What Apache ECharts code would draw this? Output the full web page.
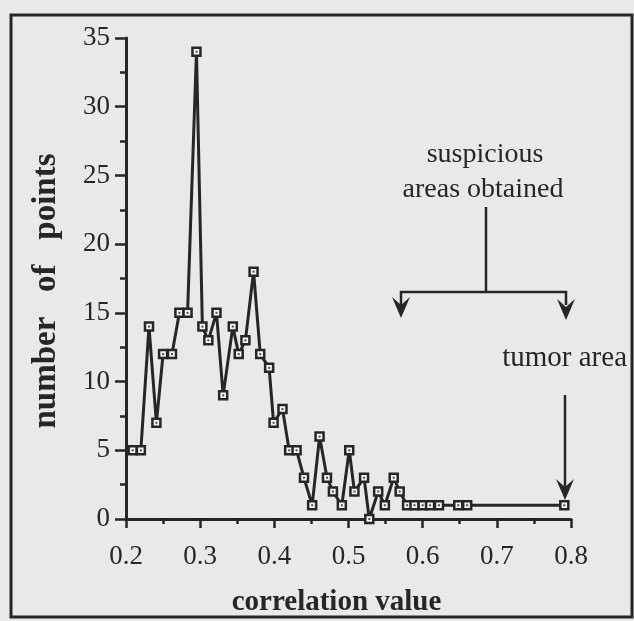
<!DOCTYPE html>
<html>
<head>
<meta charset="utf-8">
<script src="https://cdn.jsdelivr.net/npm/echarts@6/dist/echarts.min.js"></script>
<style>
  html, body { margin: 0; padding: 0; background: #e9e9e9; }
  #chart { width: 634px; height: 621px; }
</style>
</head>
<body>
<div id="chart"></div>
<script>
// correlation value (x) and number of points (y)
const correlationValues = [0.209, 0.220, 0.231, 0.241, 0.250, 0.262, 0.272, 0.283,
  0.295, 0.303, 0.311, 0.322, 0.331, 0.344, 0.352, 0.361,
  0.372, 0.381, 0.393, 0.399, 0.411, 0.420, 0.430, 0.440,
  0.451, 0.461, 0.471, 0.479, 0.491, 0.501, 0.508, 0.521,
  0.528, 0.540, 0.549, 0.561, 0.569, 0.579, 0.589, 0.600,
  0.610, 0.622, 0.648, 0.660, 0.791];
const pointCounts = [5, 5, 14, 7, 12, 12, 15, 15,
  34, 14, 13, 15, 9, 14, 12, 13,
  18, 12, 11, 7, 8, 5, 5, 3,
  1, 6, 3, 2, 1, 5, 2, 3,
  0, 2, 1, 3, 2, 1, 1, 1,
  1, 1, 1, 1, 1];
const xTickLabels = ['0.2', '0.3', '0.4', '0.5', '0.6', '0.7', '0.8'];
const yTickLabels = ['0', '5', '10', '15', '20', '25', '30', '35'];
const xAxisTitle = 'correlation value';
const yAxisTitle = 'number   of   points';
const annotationSuspicious = ['suspicious', 'areas obtained'];
const annotationTumor = 'tumor area';

const ink = '#262626';
const serif = '"Liberation Serif", "DejaVu Serif", serif';
const seriesData = correlationValues.map((x, i) => [x, pointCounts[i]]);

const chart = echarts.init(document.getElementById('chart'), null, { renderer: 'canvas' });

function arrowHead(cx, tipY) {
  return {
    type: 'polygon',
    shape: { points: [[cx, tipY], [cx - 9, tipY - 21], [cx, tipY - 13], [cx + 9, tipY - 21]] },
    style: { fill: ink }
  };
}

chart.setOption({
  backgroundColor: '#e9e9e9',
  animation: false,
  grid: { left: 126, right: 63, top: 38, bottom: 102, containLabel: false, outerBoundsMode: 'none' },
  xAxis: {
    type: 'value', min: 0.2, max: 0.8, interval: 0.1,
    name: xAxisTitle, nameLocation: 'middle', nameGap: 69,
    nameTextStyle: { fontFamily: serif, fontSize: 29, fontWeight: 'bold', color: ink, padding: [0, 24, 0, 0] },
    axisLine: { show: true, onZero: false, lineStyle: { color: ink, width: 3 } },
    axisTick: { show: true, length: 9, lineStyle: { color: ink, width: 2.5 } },
    minorTick: { show: true, splitNumber: 2, length: 5, lineStyle: { color: ink, width: 2.5 } },
    splitLine: { show: false },
    axisLabel: {
      fontFamily: serif, fontSize: 27, color: ink, margin: 24,
      formatter: v => xTickLabels[Math.round((v - 0.2) * 10)] ?? ''
    }
  },
  yAxis: {
    type: 'value', min: 0, max: 35, interval: 5,
    name: yAxisTitle, nameLocation: 'middle', nameGap: 63, nameRotate: 90,
    nameTextStyle: { fontFamily: serif, fontSize: 33, fontWeight: 'bold', color: ink, padding: [0, 25, 0, 0] },
    axisLine: { show: true, onZero: false, lineStyle: { color: ink, width: 3 } },
    axisTick: { show: true, length: 11, lineStyle: { color: ink, width: 2.5 } },
    minorTick: { show: true, splitNumber: 2, length: 6, lineStyle: { color: ink, width: 2.5 } },
    splitLine: { show: false },
    axisLabel: {
      fontFamily: serif, fontSize: 27, color: ink, margin: 16,
      formatter: v => yTickLabels[Math.round(v / 5)] ?? ''
    }
  },
  series: [
    {
      type: 'line', data: seriesData, clip: false,
      lineStyle: { color: ink, width: 3 },
      symbol: 'rect', symbolSize: 8, showSymbol: true,
      itemStyle: { color: '#f4f4f4', borderColor: ink, borderWidth: 2.5 },
      z: 3
    },
    {
      type: 'scatter', data: seriesData, clip: false,
      symbol: 'rect', symbolSize: 2,
      itemStyle: { color: ink },
      z: 4
    }
  ],
  graphic: [
    { type: 'rect', shape: { x: 11, y: 15, width: 621, height: 602 },
      style: { fill: null, stroke: ink, lineWidth: 3 }, z: -1 },
    { type: 'text', x: 485, y: 155, style: { text: annotationSuspicious[0], font: '28px ' + serif, fill: ink, textAlign: 'center', textVerticalAlign: 'middle' } },
    { type: 'text', x: 483, y: 190, style: { text: annotationSuspicious[1], font: '28px ' + serif, fill: ink, textAlign: 'center', textVerticalAlign: 'middle' } },
    { type: 'polyline', shape: { points: [[486, 207], [486, 292]] }, style: { stroke: ink, lineWidth: 2.5 } },
    { type: 'polyline', shape: { points: [[401, 305], [401, 292], [566, 292], [566, 305]] }, style: { stroke: ink, lineWidth: 2.5, fill: null } },
    arrowHead(401, 318),
    arrowHead(566, 320),
    { type: 'text', x: 627, y: 358, style: { text: annotationTumor, font: '29px ' + serif, fill: ink, textAlign: 'right', textVerticalAlign: 'middle' } },
    { type: 'polyline', shape: { points: [[565, 395], [565, 488]] }, style: { stroke: ink, lineWidth: 2.5 } },
    arrowHead(565, 500)
  ]
});
</script>
</body>
</html>
